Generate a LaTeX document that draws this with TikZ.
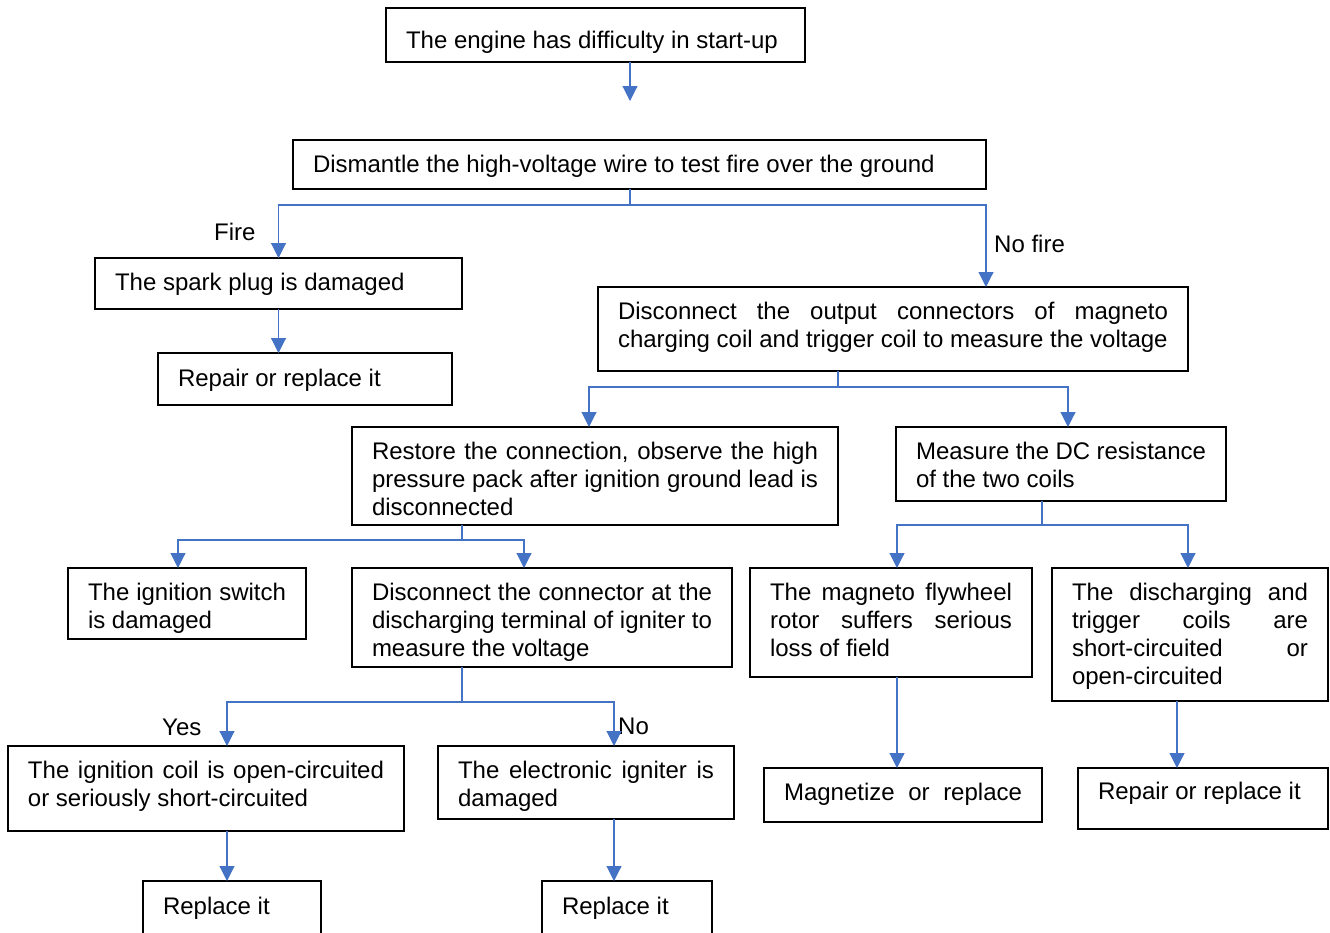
\documentclass[tikz,border=0pt]{standalone}
\usepackage{fontspec}
\setmainfont{Liberation Sans}
\usetikzlibrary{arrows.meta,calc}
\definecolor{cblue}{HTML}{4472C4}
\hbadness=10000 \vbadness=10000 \hfuzz=3pt
\newcommand{\bx}[4]{\vbox to #2{\kern\dimexpr#3-20pt\relax\hbox to #1{\kern20pt\vtop{\hsize=\dimexpr#1-40pt\relax\parindent=0pt\leftskip=0pt\rightskip=0pt\parfillskip=0pt plus 1fil\baselineskip=28pt\noindent\vrule height20pt depth0pt width0pt #4\par}\hss}\vss}}
\tikzset{
  box/.style={draw=black, line width=1.2pt, inner sep=0pt, outer sep=0pt, anchor=north west, font=\fontsize{24}{28}\selectfont},
  lbl/.style={inner sep=0pt, anchor=base west, font=\fontsize{24}{28}\selectfont},
  ln/.style={draw=cblue, line width=1.1pt},
  arr/.style={ln, -{Triangle[width=15pt,length=15pt]}}
}
\begin{document}
\begin{tikzpicture}[x=1pt,y=-1pt]
\useasboundingbox (0,0) rectangle (1330,932);
\node[box] (n1) at (386,8) {\bx{419pt}{54pt}{40pt}{The engine has difficulty in start-up}};
\node[box] (n2) at (293,140) {\bx{693pt}{49pt}{32pt}{Dismantle the high-voltage wire to test fire over the ground}};
\node[box] (n3) at (95,258) {\bx{367pt}{51pt}{32pt}{The spark plug is damaged}};
\node[box] (n4) at (158,353) {\bx{294pt}{52pt}{33pt}{Repair or replace it}};
\node[box] (n5) at (598,287) {\bx{590pt}{84pt}{32pt}{Disconnect the output connectors of magneto\linebreak charging coil and trigger coil to measure the voltage}};
\node[box] (n6) at (352,427) {\bx{486pt}{98pt}{32pt}{Restore the connection, observe the high\linebreak pressure pack after ignition ground lead is\linebreak disconnected}};
\node[box] (n7) at (896,427) {\bx{330pt}{74pt}{32pt}{Measure the DC resistance\linebreak of the two coils}};
\node[box] (n8) at (68,568) {\bx{238pt}{71pt}{32pt}{The ignition switch\linebreak is damaged}};
\node[box] (n9) at (352,568) {\bx{380pt}{99pt}{32pt}{Disconnect the connector at the\linebreak discharging terminal of igniter to\linebreak measure the voltage}};
\node[box] (n10) at (750,568) {\bx{282pt}{109pt}{32pt}{The magneto flywheel\linebreak rotor suffers serious\linebreak loss of field}};
\node[box] (n11) at (1052,568) {\bx{276pt}{133pt}{32pt}{The discharging and\linebreak trigger coils are\linebreak short-circuited or\linebreak open-circuited}};
\node[box] (n12) at (764,768) {\bx{278pt}{54pt}{32pt}{\hbox to\hsize{Magnetize or replace}}};
\node[box] (n13) at (1078,768) {\bx{250pt}{61pt}{31pt}{Repair or replace it}};
\node[box] (n14) at (8,746) {\bx{396pt}{85pt}{32pt}{The ignition coil is open-circuited\linebreak or seriously short-circuited}};
\node[box] (n15) at (438,746) {\bx{296pt}{73pt}{32pt}{The electronic igniter is\linebreak damaged}};
\node[box] (n16) at (143,881) {\bx{178pt}{62pt}{33pt}{Replace it}};
\node[box] (n17) at (542,881) {\bx{170pt}{62pt}{33pt}{Replace it}};
% labels
\node[lbl] (lf) at (214,240) {Fire};
\node[lbl] (lnf) at (994,252) {No fire};
\node[lbl] (ly) at (162,735) {Yes};
\node[lbl] (lno) at (618,734) {No};
% junctions
\coordinate (a1) at (630,101);
\coordinate (j1) at (630,205);
\coordinate (j2) at (838,387);
\coordinate (j3) at (462,540);
\coordinate (j4) at (1042,525);
\coordinate (j5) at (462,702);
\coordinate (r1) at ([xshift=147pt]n10.south west);
\coordinate (r2) at ([xshift=125pt]n11.south west);
\coordinate (r3) at ([xshift=219pt]n14.south west);
\coordinate (r4) at ([xshift=176pt]n15.south west);
% connectors
\draw[arr] (n1.south -| a1) -- (a1);
\draw[ln] (n2.south -| j1) -- (j1);
\draw[arr] (j1) -| (n3.north);
\draw[arr] (j1) -| (n2.east |- n5.north);
\draw[arr] (n3.south) -- (n3.south |- n4.north);
\draw[ln] (n5.south -| j2) -- (j2);
\draw[arr] (j2) -| ([xshift=237pt]n6.north west);
\draw[arr] (j2) -| ([xshift=172pt]n7.north west);
\draw[ln] (n6.south -| j3) -- (j3);
\draw[arr] (j3) -| ([xshift=110pt]n8.north west);
\draw[arr] (j3) -| ([xshift=172pt]n9.north west);
\draw[ln] (n7.south -| j4) -- (j4);
\draw[arr] (j4) -| ([xshift=147pt]n10.north west);
\draw[arr] (j4) -| ([xshift=136pt]n11.north west);
\draw[ln] (n9.south -| j5) -- (j5);
\draw[arr] (j5) -| ([xshift=219pt]n14.north west);
\draw[arr] (j5) -| ([xshift=176pt]n15.north west);
\draw[arr] (r1) -- (r1 |- n12.north);
\draw[arr] (r2) -- (r2 |- n13.north);
\draw[arr] (r3) -- (r3 |- n16.north);
\draw[arr] (r4) -- (r4 |- n17.north);
\end{tikzpicture}
\end{document}
